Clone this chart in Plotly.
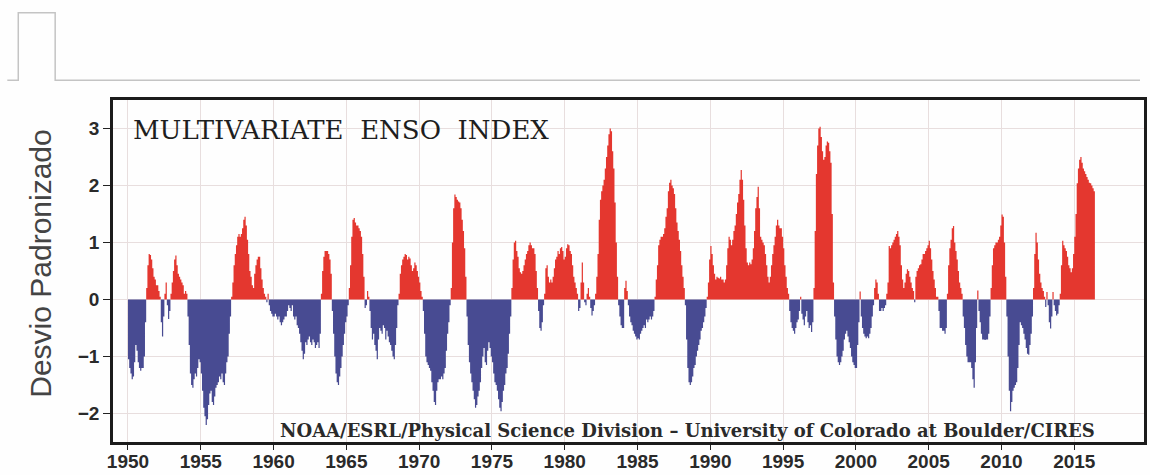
import plotly.graph_objects as go

# Multivariate ENSO Index, monthly values (Jan..Dec) grouped by decade
mei_1950s = [
    -1.05, -1.2, -1.3, -1.4, -1.35, -1.1, -0.8, -0.9, -1.1, -1.2, -1.25, -1.2,
    -1.2, -1.0, -0.4, 0.2, 0.6, 0.8, 0.78, 0.7, 0.55, 0.4, 0.35, 0.25,
    0.25, 0.15, 0.05, -0.4, -0.65, -0.3, 0.1, 0.3, -0.1, -0.34, -0.2, 0.1,
    0.3, 0.5, 0.7, 0.77, 0.6, 0.45, 0.4, 0.35, 0.3, 0.25, 0.1, 0.15,
    0.1, -0.3, -0.8, -1.3, -1.5, -1.55, -1.4, -1.3, -1.35, -1.2, -1.05, -1.1,
    -1.3, -1.6, -1.9, -2.05, -2.2, -2.1, -1.85, -1.65, -1.6, -1.8, -1.85, -1.7,
    -1.55, -1.5, -1.45, -1.35, -1.4, -1.3, -1.45, -1.5, -1.3, -1.1, -1.0, -0.6,
    -0.3, 0.05, 0.3, 0.6, 0.8, 0.95, 1.1, 1.15, 1.1, 1.15, 1.25, 1.4,
    1.45, 1.3, 1.05, 0.8, 0.5, 0.4, 0.25, 0.2, 0.45, 0.6, 0.7, 0.75,
    0.75, 0.55, 0.35, 0.2, 0.1, 0.05, -0.05, 0.1, -0.1, -0.2, -0.25, -0.3,
]
mei_1960s = [
    -0.3, -0.25, -0.3, -0.35, -0.3, -0.4, -0.45, -0.4, -0.35, -0.3, -0.3, -0.2,
    -0.1, -0.15, -0.2, -0.1, -0.3, -0.35, -0.3, -0.45, -0.5, -0.6, -0.75, -0.9,
    -1.05, -0.95, -0.75, -0.8, -0.7, -0.65, -0.75, -0.8, -0.7, -0.75, -0.85, -0.8,
    -0.75, -0.85, -0.6, 0.1, 0.5, 0.75, 0.85, 0.85, 0.85, 0.8, 0.7, 0.45,
    -0.2, -0.6, -1.0, -1.3, -1.45, -1.5, -1.35, -1.2, -1.0, -0.8, -0.6, -0.4,
    -0.3, -0.1, 0.2, 0.6, 1.1, 1.4, 1.43, 1.35, 1.3, 1.3, 1.25, 1.2,
    1.1, 0.8, 0.4, -0.15, -0.1, 0.15, 0.05, -0.2, -0.5, -0.7, -0.6, -0.8,
    -0.9, -1.05, -0.7, -0.5, -0.55, -0.6, -0.45, -0.5, -0.7, -0.55, -0.65, -0.75,
    -0.8, -0.9, -1.0, -1.05, -0.8, -0.5, -0.1, 0.1, 0.45, 0.6, 0.7, 0.75,
    0.8, 0.78, 0.7, 0.75, 0.72, 0.6, 0.5, 0.55, 0.65, 0.6, 0.5, 0.4,
]
mei_1970s = [
    0.3, 0.15, 0.05, -0.2, -0.6, -1.0, -1.1, -1.15, -1.2, -1.25, -1.45, -1.6,
    -1.8, -1.85, -1.6, -1.45, -1.4, -1.4, -1.35, -1.4, -1.3, -1.2, -0.9, -0.6,
    -0.4, -0.1, 0.2, 1.0, 1.6, 1.84, 1.8, 1.75, 1.72, 1.7, 1.6, 1.4,
    1.2, 0.9, 0.4, -0.3, -0.8, -1.1, -1.3, -1.45, -1.6, -1.75, -1.9, -1.85,
    -1.7, -1.6, -1.45, -1.2, -1.0, -0.85, -1.1, -1.15, -0.9, -0.75, -0.85, -1.0,
    -1.1, -1.3, -1.45, -1.5, -1.6, -1.75, -1.9, -1.96, -1.8, -1.6, -1.5, -1.3,
    -1.2, -0.95, -0.6, -0.3, 0.2, 0.7, 1.0, 1.03, 0.85, 0.75, 0.55, 0.48,
    0.45, 0.5, 0.6, 0.7, 0.8, 0.85, 0.95, 1.0, 0.95, 0.9, 0.9, 0.8,
    0.5, 0.2, -0.2, -0.5, -0.55, -0.4, -0.1, 0.1, 0.55, 0.6, 0.4, 0.3,
    0.35, 0.3, 0.4, 0.55, 0.7, 0.75, 0.85, 0.8, 0.9, 0.92, 0.85, 0.7,
]
mei_1980s = [
    0.75, 0.9, 0.97, 0.95, 0.85, 0.8, 0.6, 0.4, 0.3, 0.2, 0.1, -0.2,
    -0.15, 0.3, 0.65, 0.3, -0.05, -0.1, 0.1, 0.2, 0.05, -0.15, -0.28, -0.2,
    -0.1, 0.1, 0.4, 0.8, 1.4, 1.75, 1.9, 2.0, 2.1, 2.3, 2.5, 2.7,
    2.9, 3.0, 2.95, 2.6, 2.3, 1.7, 1.0, 0.4, -0.1, -0.3, -0.45, -0.5,
    -0.5, 0.2, 0.33, 0.15, -0.1, -0.3, -0.4, -0.45, -0.55, -0.6, -0.65, -0.7,
    -0.68, -0.7, -0.6, -0.55, -0.5, -0.45, -0.5, -0.35, -0.4, -0.35, -0.3, -0.35,
    -0.3, -0.2, 0.05, 0.35, 0.6, 0.95, 1.05, 1.1, 1.1, 1.15, 1.25, 1.45,
    1.6, 1.9, 2.05, 2.1, 2.0, 1.95, 1.85, 1.6, 1.35, 1.2, 1.05, 0.85,
    0.6, 0.4, 0.2, -0.1, -0.7, -1.2, -1.45, -1.5, -1.45, -1.35, -1.2, -1.15,
    -1.0, -0.9, -0.8, -0.7, -0.55, -0.5, -0.4, -0.3, -0.15, 0.05, 0.3, 0.7,
]
mei_1990s = [
    0.94, 0.8, 0.6, 0.45, 0.35, 0.4, 0.38, 0.37, 0.4, 0.35, 0.35, 0.3,
    0.35, 0.6, 0.9, 1.1, 1.05, 0.95, 1.05, 1.2, 1.3, 1.5, 1.7, 1.85,
    2.1, 2.27, 2.1, 1.75, 1.3, 0.9, 0.65, 0.6, 0.65, 0.62, 0.7, 0.9,
    1.2, 1.6, 1.8, 1.98, 1.6, 1.1, 1.05, 1.0, 0.95, 0.8, 0.6, 0.4,
    0.3, 0.4, 0.6, 0.8, 0.95, 1.1, 1.3, 1.4, 1.3, 1.25, 1.25, 1.1,
    0.9, 0.6, 0.4, 0.2, 0.1, -0.2, -0.4, -0.5, -0.55, -0.6, -0.5, -0.4,
    -0.35, -0.2, 0.05, -0.25, -0.35, -0.45, -0.3, -0.2, -0.4, -0.5, -0.45, -0.57,
    -0.4, 0.2, 1.2, 2.2, 2.7, 3.0, 3.03, 2.85, 2.6, 2.45, 2.5, 2.7,
    2.77, 2.75, 2.6, 2.4, 1.5, 0.3, -0.3, -0.7, -1.0, -1.1, -1.15, -1.1,
    -1.0, -0.9, -0.7, -0.6, -0.55, -0.65, -0.75, -0.85, -1.0, -1.1, -1.15, -1.2,
]
mei_2000s = [
    -1.2, -0.8, -0.4, 0.14, -0.3, -0.5, -0.6, -0.65, -0.68, -0.65, -0.68, -0.6,
    -0.5, -0.3, -0.1, 0.2, 0.35, 0.3, 0.1, -0.2, -0.2, -0.15, -0.2, -0.15,
    -0.1, 0.1, 0.3, 0.94, 0.9, 0.95, 1.0, 1.05, 1.1, 1.15, 1.2, 1.1,
    0.95, 0.6, 0.35, 0.2, 0.3, 0.45, 0.53, 0.5, 0.4, 0.3, 0.2, 0.15,
    -0.05, 0.4, 0.5, 0.55, 0.6, 0.62, 0.7, 0.8, 0.8, 0.85, 0.9, 0.95,
    1.03, 0.9, 0.7, 0.5, 0.35, 0.2, 0.05, 0.05, -0.2, -0.5, -0.5, -0.55,
    -0.55, -0.6, -0.5, 0.1, 0.6, 0.9, 1.05, 1.25, 1.29, 1.0, 0.85, 0.7,
    0.5, 0.3, 0.2, 0.1, -0.3, -0.5, -0.8, -1.0, -1.1, -1.1, -1.1, -1.2,
    -1.4, -1.55, -1.1, -0.5, 0.16, -0.2, -0.4, -0.6, -0.7, -0.7, -0.71, -0.7,
    -0.7, -0.6, -0.3, 0.2, 0.6, 0.9, 0.95, 1.0, 1.0, 1.05, 1.1, 1.3,
]
mei_2010s = [
    1.49, 1.45, 1.0, 0.4, -0.3, -1.0, -1.6, -1.96, -1.8, -1.6, -1.55, -1.5,
    -1.45, -1.2, -0.8, -0.4, -0.45, -0.5, -0.6, -0.7, -0.85, -0.95, -0.97, -0.8,
    -0.6, -0.3, 0.2, 0.8, 1.17, 1.0, 0.7, 0.45, 0.3, 0.2, 0.15, 0.05,
    -0.13, 0.13, -0.1, -0.4, -0.51, -0.3, 0.13, -0.1, -0.2, -0.28, -0.25, -0.1,
    0.1, 0.6, 1.03, 0.95, 0.9, 0.85, 0.75, 0.6, 0.55, 0.48, 0.55, 0.8,
    1.1, 1.5, 2.04, 2.3, 2.45, 2.5, 2.4, 2.3, 2.25, 2.2, 2.15, 2.1,
    2.05, 2.04, 2.0, 1.95, 1.9,
]
start_year = 1950
year_ticks = list(range(1950, 2020, 5))
value_ticks = [-2, -1, 0, 1, 2, 3]

mei = mei_1950s + mei_1960s + mei_1970s + mei_1980s + mei_1990s + mei_2000s + mei_2010s
# time of each monthly value; one extra step closes the last month
t = [start_year + i / 12 for i in range(len(mei) + 1)]
mei_closed = mei + [mei[-1]]
warm = [max(v, 0.0) for v in mei_closed]
cold = [min(v, 0.0) for v in mei_closed]

RED = "#e4372f"
BLUE = "#484b92"

fig = go.Figure()
fig.add_trace(go.Scatter(x=t, y=cold, mode="lines", line=dict(width=0, shape="hv"),
                         fill="tozeroy", fillcolor=BLUE, hoverinfo="skip"))
fig.add_trace(go.Scatter(x=t, y=warm, mode="lines", line=dict(width=0, shape="hv"),
                         fill="tozeroy", fillcolor=RED, hoverinfo="skip"))

# plot-area geometry in pixels (used to place page decorations)
L, R, T, B, W, H = 113, 1147, 100, 445, 1150, 475
def px(x):
    return (x - L) / (R - L)
def py(y):
    return (B - y) / (B - T)

grid = "#e8dede"
tick_font = dict(family="Liberation Sans", size=19, color="#2a2a2a", weight="bold")
fig.update_xaxes(range=[1948.97, 2019.79], tickvals=year_ticks, showgrid=True,
                 gridcolor=grid, gridwidth=1, zeroline=False,
                 showline=True, mirror=True, linecolor="#1c1c1c", linewidth=2.5,
                 ticks="outside", ticklen=5, tickwidth=1.2, tickcolor="#222",
                 ticklabelstandoff=-5, tickfont=tick_font)
fig.update_yaxes(range=[-2.5, 3.5], tickvals=value_ticks, showgrid=True,
                 gridcolor=grid, gridwidth=1, zeroline=False,
                 showline=True, mirror=True, linecolor="#1c1c1c", linewidth=2.5,
                 ticks="outside", ticklen=7, tickwidth=1.2, tickcolor="#222",
                 tickfont=tick_font)

fig.add_annotation(x=px(131), y=py(130), xref="paper", yref="paper",
                   text="MULTIVARIATE\u00a0 ENSO\u00a0 INDEX", showarrow=False,
                   xanchor="left", yanchor="middle",
                   font=dict(family="DejaVu Serif", size=26, color="#1e1e1e"))
fig.add_annotation(x=px(1100), y=py(433), xref="paper", yref="paper",
                   text="NOAA/ESRL/Physical Science Division \u2013 University of Colorado at Boulder/CIRES",
                   showarrow=False, xanchor="right", yanchor="middle",
                   font=dict(family="DejaVu Serif", size=18, color="#2a2a2a", weight="bold"))
fig.add_annotation(x=px(40), y=py(265), xref="paper", yref="paper",
                   text="Desvio Padronizado", textangle=-90, showarrow=False,
                   xanchor="center", yanchor="middle",
                   font=dict(family="Liberation Sans", size=30, color="#444"))

# tab outline above the chart
path = (f"M {px(7)},{py(80)} L {px(18)},{py(80)} L {px(18)},{py(12)} "
        f"L {px(55)},{py(12)} L {px(55)},{py(80)} L {px(1143)},{py(80)}")
fig.add_shape(type="path", path=path, xref="paper", yref="paper",
              line=dict(color="#c4c4c4", width=1.5))

fig.update_layout(width=W, height=H, showlegend=False,
                  margin=dict(l=L, r=W - R, t=T, b=H - B),
                  paper_bgcolor="#fefefe", plot_bgcolor="#fefefe")

fig.write_html("out.html")
